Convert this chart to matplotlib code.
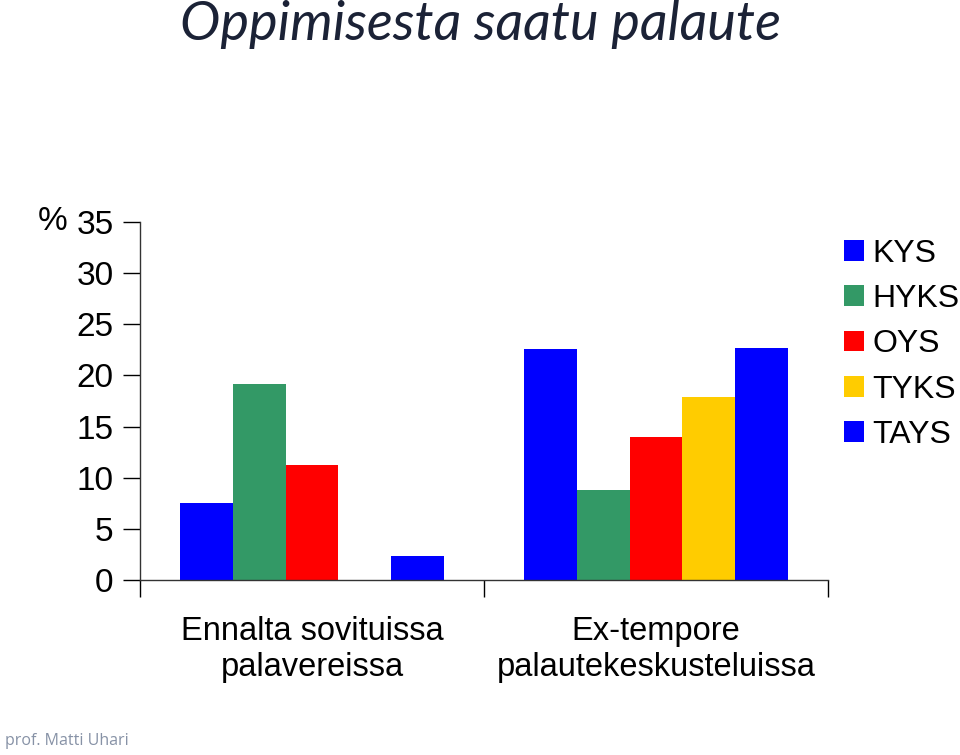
import numpy as np
import matplotlib.pyplot as plt
from matplotlib.patches import Patch

# data
categories = ["Ennalta sovituissa\npalavereissa", "Ex-tempore\npalautekeskusteluissa"]
hospitals = ["KYS", "HYKS", "OYS", "TYKS", "TAYS"]
kys = [7.5, 22.6]
hyks = [19.2, 8.8]
oys = [11.2, 14.0]
tyks = [0.0, 17.9]
tays = [2.3, 22.7]
colors = ["#0000FF", "#339966", "#FF0000", "#FFCC00", "#0000FF"]

series = [kys, hyks, oys, tyks, tays]

plt.rcParams['font.family'] = ['Liberation Sans', 'DejaVu Sans']

fig = plt.figure(figsize=(9.6, 7.55), dpi=100)
ax = fig.add_axes([0.1458, 0.2318, 0.7167, 0.4742])

w = 0.1536
centers = np.arange(len(categories)) + 0.5
for i, (vals, c) in enumerate(zip(series, colors)):
    ax.bar(centers + (i - 2) * w, vals, width=w, color=c, linewidth=0)

ax.set_xlim(0, 2)
ax.set_ylim(0, 35)
ax.set_yticks(range(0, 36, 5))
ax.tick_params(axis='y', labelsize=24, length=12, width=1, direction='out', pad=7)
ax.set_xticks([0, 1, 2])
ax.set_xticklabels([])
ax.tick_params(axis='x', which='major', length=12, width=1, direction='out')
ax.set_xticks(centers, minor=True)
ax.set_xticklabels(categories, minor=True, fontsize=23.5, linespacing=1.22)
ax.tick_params(axis='x', which='minor', length=0, pad=26)

for s in ['top', 'right']:
    ax.spines[s].set_visible(False)
for s in ['left', 'bottom']:
    ax.spines[s].set_color('#333333')
    ax.spines[s].set_linewidth(1)

fig.text(0.039, 1 - 222 / 755, "%", fontsize=24, ha='left', va='center')

handles = [Patch(facecolor=c, edgecolor='none') for c in colors]
fig.legend(handles, hospitals, loc='upper left', bbox_to_anchor=(0.879, 0.684),
           frameon=False, fontsize=23, handlelength=0.63, handleheight=0.63,
           handletextpad=0.26, labelspacing=0.48, borderaxespad=0, borderpad=0)

fig.text(0.5, 1 - 40 / 755, "Oppimisesta saatu palaute", fontsize=39, style='italic',
         family=['Lato', 'DejaVu Sans'], color='#1B2236', ha='center', va='baseline')

fig.text(0.005, 0.008, "prof. Matti Uhari", fontsize=11.5, color='#8792A6',
         family=['Open Sans', 'DejaVu Sans'], ha='left', va='bottom')

fig.savefig("out.png", dpi=100)
